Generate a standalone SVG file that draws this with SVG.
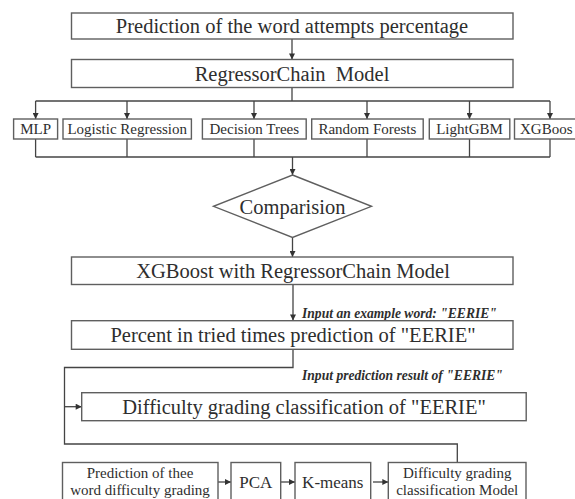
<svg xmlns="http://www.w3.org/2000/svg" width="575" height="499" viewBox="0 0 575 499">
<defs>
<marker id="arr" viewBox="0 0 10 10" refX="10" refY="5" markerWidth="7" markerHeight="6" markerUnits="userSpaceOnUse" orient="auto">
<path d="M0,0 L10,5 L0,10 z" fill="#333"/>
</marker>
</defs>
<style>
.box{fill:#fff;stroke:#5f5f5f;stroke-width:1.4}
.t{font-family:"Liberation Serif","Times New Roman",serif;fill:#2e2e2e;text-anchor:middle}
.big{font-size:20.5px}
.sm{font-size:15px}
.md{font-size:17px}
.lab{font-family:"Liberation Serif","Times New Roman",serif;font-size:13.6px;font-weight:bold;font-style:italic;fill:#2e2e2e}
.c{fill:none;stroke:#444;stroke-width:1.3}
.a{fill:none;stroke:#444;stroke-width:1.3;marker-end:url(#arr)}
</style>
<rect width="575" height="499" fill="#fff"/>
<g id="connectors">
<line class="a" x1="292" y1="39" x2="292" y2="59.5"/>
<polyline class="c" points="292,87.5 292,101"/>
<line class="c" x1="35.6" y1="101" x2="550" y2="101"/>
<line class="a" x1="35.6" y1="101" x2="35.6" y2="119"/>
<line class="a" x1="127" y1="101" x2="127" y2="119"/>
<line class="a" x1="254" y1="101" x2="254" y2="119"/>
<line class="a" x1="367" y1="101" x2="367" y2="119"/>
<line class="a" x1="469.5" y1="101" x2="469.5" y2="119"/>
<line class="a" x1="550" y1="101" x2="550" y2="119"/>
<line class="c" x1="35.6" y1="139" x2="35.6" y2="157"/>
<line class="c" x1="127" y1="139" x2="127" y2="157"/>
<line class="c" x1="254" y1="139" x2="254" y2="157"/>
<line class="c" x1="367" y1="139" x2="367" y2="157"/>
<line class="c" x1="469.5" y1="139" x2="469.5" y2="157"/>
<line class="c" x1="550" y1="139" x2="550" y2="157"/>
<line class="c" x1="35.6" y1="157" x2="550" y2="157"/>
<line class="a" x1="292.5" y1="157" x2="292.5" y2="175"/>
<line class="a" x1="292.5" y1="237.5" x2="292.5" y2="257"/>
<line class="a" x1="293" y1="284.5" x2="293" y2="320.5"/>
<polyline class="c" points="293,349.5 293,367.5 64.5,367.5 64.5,444 457.3,444 457.3,462.5"/>
<line class="a" x1="64.5" y1="406.7" x2="81.7" y2="406.7"/>
<line class="a" x1="218" y1="482" x2="231" y2="482"/>
<line class="a" x1="280.7" y1="482" x2="295" y2="482"/>
<line class="a" x1="373" y1="482" x2="388.3" y2="482"/>
<text class="lab" x="302" y="317.5">Input an example word: "EERIE"</text>
<text class="lab" x="302" y="379.5">Input prediction result of "EERIE"</text>
</g>
<g id="n1"><rect class="box" x="71.5" y="13" width="441.5" height="26"/><text class="t big" x="292" y="33">Prediction of the word attempts percentage</text></g>
<g id="n2"><rect class="box" x="71.5" y="59.5" width="441.5" height="28"/><text class="t big" x="292" y="80.5" xml:space="preserve">RegressorChain  Model</text></g>
<g id="mlp"><rect class="box" x="13.6" y="119" width="44" height="20"/><text class="t sm" x="35.6" y="134">MLP</text></g>
<g id="lr"><rect class="box" x="63" y="119" width="128.4" height="20"/><text class="t sm" x="127.2" y="134">Logistic Regression</text></g>
<g id="dt"><rect class="box" x="202.4" y="119" width="103.8" height="20"/><text class="t sm" x="254.3" y="134">Decision Trees</text></g>
<g id="rf"><rect class="box" x="311.7" y="119" width="111.5" height="20"/><text class="t sm" x="367.4" y="134">Random Forests</text></g>
<g id="lgbm"><rect class="box" x="429.3" y="119" width="80.5" height="20"/><text class="t sm" x="469.5" y="134">LightGBM</text></g>
<g id="xgb"><rect class="box" x="514.5" y="119" width="72" height="20"/><text class="t sm" x="520" y="134" style="text-anchor:start">XGBoos</text></g>
<g id="cmp"><polygon class="box" points="292.5,175 371.5,206.3 292.5,237.5 213.5,206.3"/><text class="t big" x="292.5" y="213.5">Comparision</text></g>
<g id="n3"><rect class="box" x="71.5" y="257" width="441.5" height="27.5"/><text class="t big" x="293" y="278">XGBoost with RegressorChain Model</text></g>
<g id="n4"><rect class="box" x="71.5" y="320.7" width="441.5" height="28.6"/><text class="t big" x="293" y="342">Percent in tried times prediction of "EERIE"</text></g>
<g id="n5"><rect class="box" x="81.7" y="392.7" width="444.5" height="28"/><text class="t big" x="304" y="414">Difficulty grading classification of "EERIE"</text></g>
<g id="b1"><rect class="box" x="62.5" y="462.5" width="155.5" height="45"/><text class="t sm" x="140" y="477.5">Prediction of thee</text><text class="t sm" x="140" y="494.5">word difficulty grading</text></g>
<g id="pca"><rect class="box" x="231" y="462.5" width="49.7" height="45"/><text class="t md" x="255.8" y="488">PCA</text></g>
<g id="km"><rect class="box" x="295" y="462.5" width="75.7" height="45"/><text class="t md" x="332.8" y="488">K-means</text></g>
<g id="b4"><rect class="box" x="388.3" y="462.5" width="137.7" height="45"/><text class="t sm" x="457.2" y="477.5">Difficulty grading</text><text class="t sm" x="457.2" y="494.5">classification Model</text></g>
</svg>
